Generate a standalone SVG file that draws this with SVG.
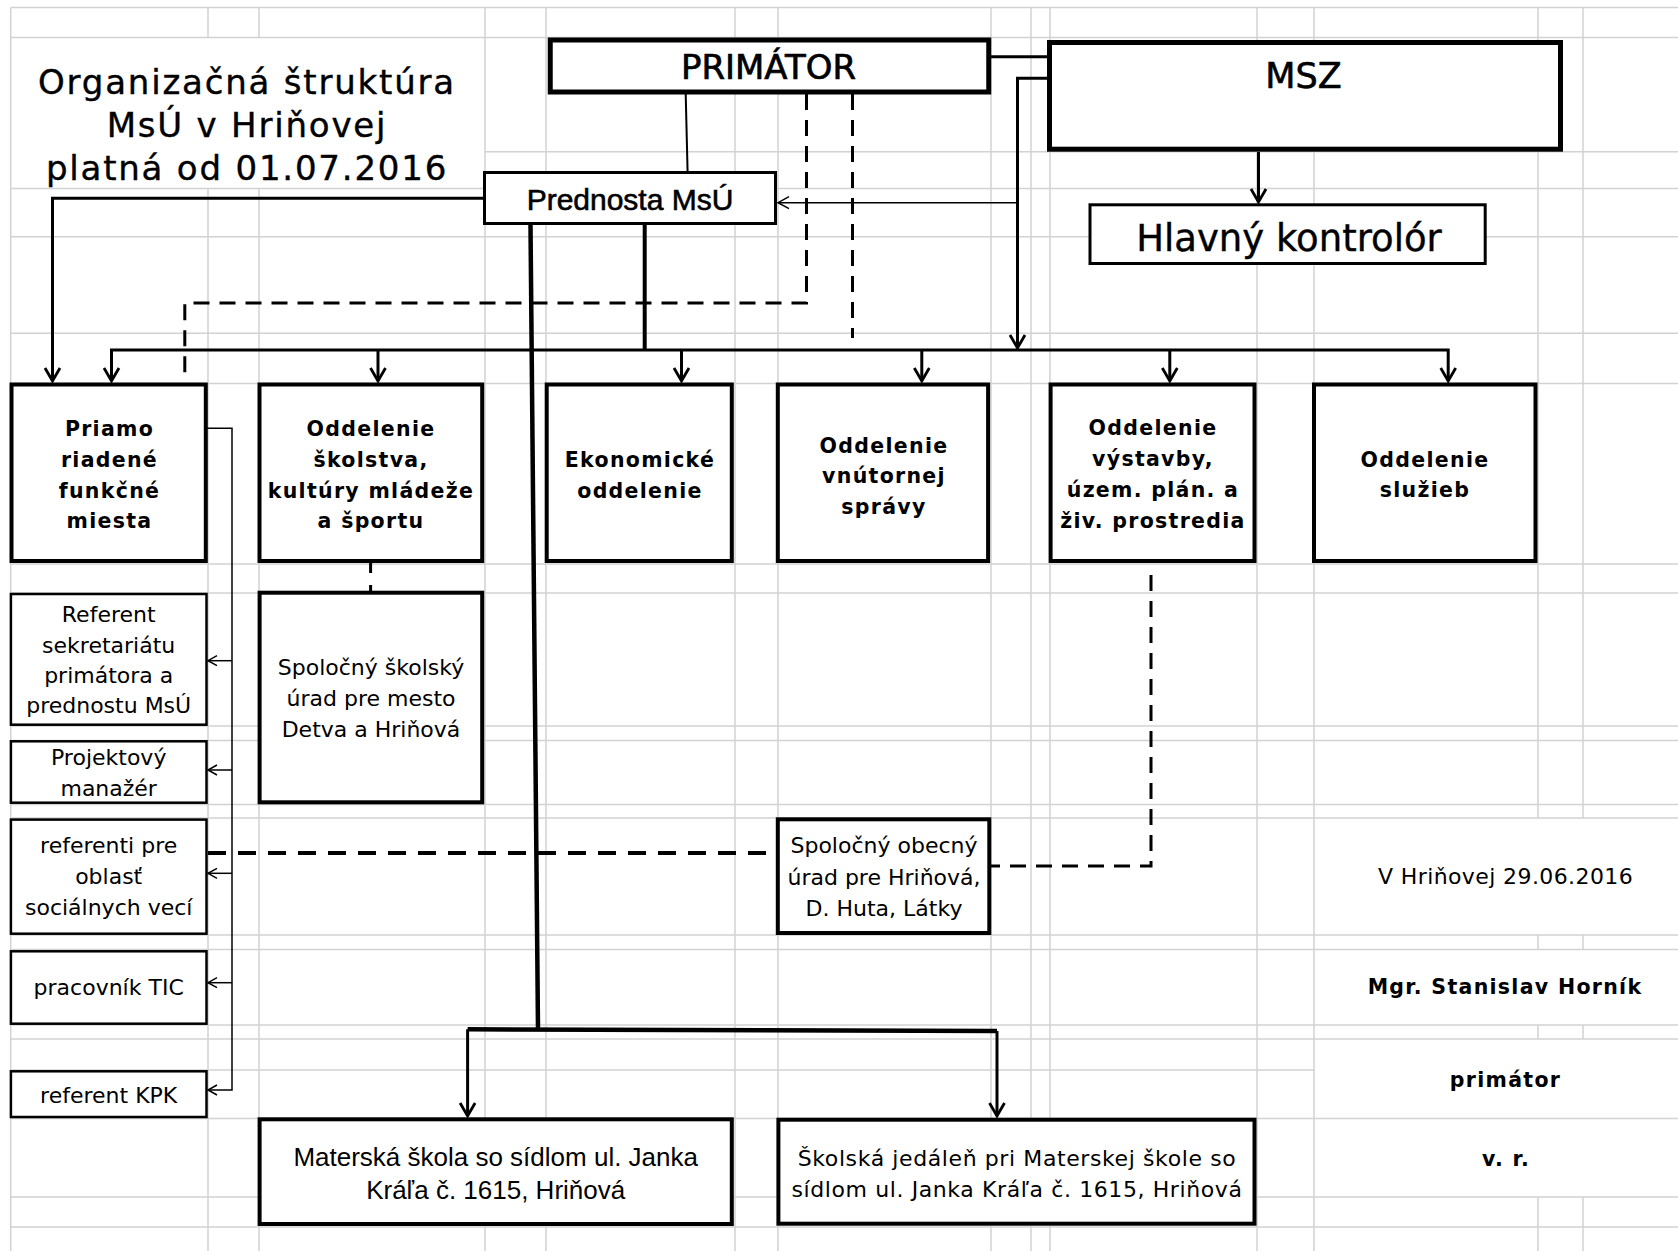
<svg xmlns="http://www.w3.org/2000/svg" width="1678" height="1251" viewBox="0 0 1678 1251">
<style>
.grid path{stroke:#d2d2d2;stroke-width:1.5;fill:none}
.bx{fill:#fff;stroke:#000}
.b5{stroke-width:5}
.b4{stroke-width:4}
.b3{stroke-width:3}
.b2{stroke-width:2.5}
.c{fill:none;stroke:#000;stroke-linejoin:miter}
.dash{stroke-dasharray:16 10}
.t{font-family:"DejaVu Sans",Verdana,sans-serif;fill:#000;text-anchor:middle}
.dep{font-family:"DejaVu Sans",Verdana,sans-serif;font-weight:bold;font-size:20.5px;letter-spacing:1.3px;fill:#000;text-anchor:middle}
.sm{font-size:22px}
.ar{font-family:"Liberation Sans",Arial,sans-serif;fill:#000;text-anchor:middle}
</style>
<defs>
<marker id="ah" viewBox="-16 -10 20 20" refX="0" refY="0" markerWidth="20" markerHeight="20" markerUnits="userSpaceOnUse" orient="auto" overflow="visible"><path d="M-13,-7.5 L0,0 L-13,7.5" fill="none" stroke="#000" stroke-width="2.8"/></marker>
<marker id="at" viewBox="-12 -8 14 16" refX="0" refY="0" markerWidth="14" markerHeight="16" markerUnits="userSpaceOnUse" orient="auto" overflow="visible"><path d="M-9,-5 L0,0 L-9,5" fill="none" stroke="#000" stroke-width="1.5"/></marker>
<marker id="am" viewBox="-14 -8 16 16" refX="0" refY="0" markerWidth="16" markerHeight="16" markerUnits="userSpaceOnUse" orient="auto" overflow="visible"><path d="M-11,-6 L0,0 L-11,6" fill="none" stroke="#000" stroke-width="1.5"/></marker>
</defs>
<rect width="1678" height="1251" fill="#fff"/>
<g class="grid" id="grid">
<path d="M10.7,7.5V1251 M208,7.5V37.5 M208,188.5V1251 M259,7.5V37.5 M259,188.5V1251 M485,7.5V1251 M546,7.5V1251 M735,7.5V1251 M778,7.5V1251 M991,7.5V1251 M1031,7.5V1251 M1050,7.5V1251 M1257,7.5V1251 M1314,7.5V1251 M1538,7.5V818 M1538,935V949.5 M1538,1025V1039 M1538,1197V1251 M1583,7.5V818 M1583,935V949.5 M1583,1025V1039 M1583,1197V1251"/>
<path d="M10.7,7.5H1678 M10.7,37.5H1678 M485,151.7H1678 M10.7,188.5H1678 M10.7,236.7H1678 M10.7,333.2H1678 M10.7,383.5H1678 M10.7,564H1678 M10.7,593H1678 M10.7,726H1678 M10.7,740.5H1678 M10.7,804.5H1678 M10.7,818H1678 M10.7,935H1678 M10.7,949.5H1678 M10.7,1025H1678 M10.7,1039H1678 M10.7,1070H1314 M10.7,1118.5H1678 M10.7,1197H1678 M10.7,1227H1678"/>
</g>
<g id="connectors">
<path class="c" stroke-width="2" d="M685.7,94 L687.6,172"/>
<path class="c" stroke-width="3" d="M991,56.7 H1048"/>
<path class="c" stroke-width="3" d="M1048,78.3 H1017.5 V348" marker-end="url(#ah)"/>
<path class="c" stroke-width="1.5" d="M1017.5,202.7 H778" marker-end="url(#am)"/>
<path class="c" stroke-width="3" d="M1258.5,152 V202" marker-end="url(#ah)"/>
<path class="c" stroke-width="3" d="M484,198.3 H52.5 V381" marker-end="url(#ah)"/>
<path class="c" stroke-width="4" d="M644.7,225 V350"/>
<path class="c" stroke-width="3" d="M111.5,381 V350 H1448.2 V381" marker-end="url(#ah)"/>
<path class="c" stroke-width="3" d="M378,350 V381" marker-end="url(#ah)"/>
<path class="c" stroke-width="3" d="M681.5,350 V381" marker-end="url(#ah)"/>
<path class="c" stroke-width="3" d="M921.8,350 V381" marker-end="url(#ah)"/>
<path class="c" stroke-width="3" d="M1169.8,350 V381" marker-end="url(#ah)"/>
<path class="c" stroke-width="3" d="M111.5,350 V381" marker-end="url(#ah)"/>
<path class="c dash" stroke-width="3" d="M806.5,94 V303 H184.8 V382"/>
<path class="c dash" stroke-width="3" d="M852.5,94 V338"/>
<path class="c" stroke-width="3" stroke-dasharray="10 12" d="M370.6,563 V591"/>
<path class="c dash" stroke-width="3" d="M1151,575 V866 H991"/>
<path class="c" stroke-width="4" stroke-dasharray="18 12" d="M208,853 H776"/>
<path class="c" stroke-width="1.5" d="M207,428.3 H232 V1090 H208" marker-end="url(#at)"/>
<path class="c" stroke-width="1.5" d="M232,660.7 H208" marker-end="url(#at)"/>
<path class="c" stroke-width="1.5" d="M232,770 H208" marker-end="url(#at)"/>
<path class="c" stroke-width="1.5" d="M232,873.3 H208" marker-end="url(#at)"/>
<path class="c" stroke-width="1.5" d="M232,982.7 H208" marker-end="url(#at)"/>
<path class="c" stroke-width="4.5" d="M530.5,225 L538,1029"/>
<path class="c" stroke-width="4.5" d="M467.6,1029.3 L997,1031"/>
<path class="c" stroke-width="3" d="M467.6,1029.3 V1116" marker-end="url(#ah)"/>
<path class="c" stroke-width="3" d="M997,1031 V1116" marker-end="url(#ah)"/>
</g>
<g id="title">
<text class="t" font-size="34" letter-spacing="1.8" stroke="#000" stroke-width="0.4" x="247" y="94">Organizačná štruktúra</text>
<text class="t" font-size="34" letter-spacing="1.8" stroke="#000" stroke-width="0.4" x="247" y="137">MsÚ v Hriňovej</text>
<text class="t" font-size="34" letter-spacing="1.8" stroke="#000" stroke-width="0.4" x="247" y="180">platná od 01.07.2016</text>
</g>
<g id="primator"><rect class="bx b5" x="550.25" y="40" width="438.5" height="52"/><text class="t" font-size="34" stroke="#000" stroke-width="0.7" x="768.5" y="79" textLength="175" lengthAdjust="spacingAndGlyphs">PRIMÁTOR</text></g>
<g id="msz"><rect class="bx b5" x="1049.5" y="42.5" width="511" height="106.7"/><text class="t" font-size="35" stroke="#000" stroke-width="0.6" x="1303.5" y="88">MSZ</text></g>
<g id="prednosta"><rect class="bx b3" x="484.5" y="172.5" width="291" height="51"/><text class="ar" font-size="30" stroke="#000" stroke-width="0.6" x="630" y="210">Prednosta MsÚ</text></g>
<g id="kontrolor"><rect class="bx b3" x="1090" y="204.8" width="395.2" height="58.7"/><text class="t" font-size="37" stroke="#000" stroke-width="0.4" x="1289" y="251">Hlavný kontrolór</text></g>
<g id="dept1"><rect class="bx b4" x="11.5" y="384.5" width="194.3" height="176.5"/><text class="dep" x="109.5" y="436">Priamo</text><text class="dep" x="109.5" y="466.7">riadené</text><text class="dep" x="109.5" y="497.7">funkčné</text><text class="dep" x="109.5" y="528.3">miesta</text></g>
<g id="dept2"><rect class="bx b4" x="259.5" y="384.5" width="222.7" height="176.5"/><text class="dep" x="371" y="436">Oddelenie</text><text class="dep" x="371" y="466.7">školstva,</text><text class="dep" x="371" y="497.7" letter-spacing="0.2">kultúry mládeže</text><text class="dep" x="371" y="528.3">a športu</text></g>
<g id="dept3"><rect class="bx b4" x="546.7" y="384.5" width="185.1" height="176.5"/><text class="dep" x="640" y="466.7" letter-spacing="2">Ekonomické</text><text class="dep" x="640" y="497.7">oddelenie</text></g>
<g id="dept4"><rect class="bx b4" x="777.8" y="384.5" width="210.3" height="176.5"/><text class="dep" x="884" y="452.5">Oddelenie</text><text class="dep" x="884" y="483">vnútornej</text><text class="dep" x="884" y="513.5">správy</text></g>
<g id="dept5"><rect class="bx b4" x="1050.6" y="384.5" width="203.9" height="176.5"/><text class="dep" x="1153" y="435">Oddelenie</text><text class="dep" x="1153" y="465.5">výstavby,</text><text class="dep" x="1153" y="497">územ. plán. a</text><text class="dep" x="1153" y="527.5">živ. prostredia</text></g>
<g id="dept6"><rect class="bx b4" x="1314" y="384.5" width="221.5" height="176.5"/><text class="dep" x="1425" y="466.7">Oddelenie</text><text class="dep" x="1425" y="496.7">služieb</text></g>
<g id="referent"><rect class="bx b2" x="10.9" y="594" width="195.6" height="130.7"/><text class="t sm" x="108.7" y="622.3">Referent</text><text class="t sm" x="108.7" y="652.7">sekretariátu</text><text class="t sm" x="108.7" y="683.3">primátora a</text><text class="t sm" x="108.7" y="713.3">prednostu MsÚ</text></g>
<g id="projekt"><rect class="bx b2" x="10.9" y="741.3" width="195.6" height="61.4"/><text class="t sm" x="108.7" y="765">Projektový</text><text class="t sm" x="108.7" y="795.5">manažér</text></g>
<g id="socialne"><rect class="bx b2" x="10.9" y="819.6" width="195.6" height="114.1"/><text class="t sm" x="108.7" y="853.3">referenti pre</text><text class="t sm" x="108.7" y="884">oblasť</text><text class="t sm" x="108.7" y="915">sociálnych vecí</text></g>
<g id="tic"><rect class="bx b2" x="10.9" y="951.3" width="195.6" height="72.4"/><text class="t sm" x="108.7" y="995">pracovník TIC</text></g>
<g id="kpk"><rect class="bx b2" x="10.9" y="1071.3" width="195.6" height="45.7"/><text class="t sm" x="108.7" y="1103.3">referent KPK</text></g>
<g id="skolsky-urad"><rect class="bx b4" x="259.6" y="592.7" width="222.6" height="209.6"/><text class="t sm" x="371" y="675">Spoločný školský</text><text class="t sm" x="371" y="706">úrad pre mesto</text><text class="t sm" x="371" y="737">Detva a Hriňová</text></g>
<g id="obecny-urad"><rect class="bx b4" x="777.8" y="819.3" width="211.5" height="113.7"/><text class="t sm" x="884" y="853.3">Spoločný obecný</text><text class="t sm" x="884" y="885">úrad pre Hriňová,</text><text class="t sm" x="884" y="915.5">D. Huta, Látky</text></g>
<g id="materska"><rect class="bx b4" x="259.6" y="1119.3" width="472.2" height="104.7"/><text class="ar" font-size="26" x="495.7" y="1165.7">Materská škola so sídlom ul. Janka</text><text class="ar" font-size="26" x="495.7" y="1199">Kráľa č. 1615, Hriňová</text></g>
<g id="jedalen"><rect class="bx b4" x="778.4" y="1119.7" width="476.1" height="104"/><text class="t sm" letter-spacing="0.6" x="1017" y="1165.7">Školská jedáleň pri Materskej škole so</text><text class="t sm" letter-spacing="0.6" x="1017" y="1196.7">sídlom ul. Janka Kráľa č. 1615, Hriňová</text></g>
<g id="signature">
<text class="t sm" letter-spacing="0.4" x="1505.5" y="884">V Hriňovej 29.06.2016</text>
<text class="dep" letter-spacing="1.6" x="1505" y="994">Mgr. Stanislav Horník</text>
<text class="dep" x="1505.5" y="1086.7">primátor</text>
<text class="dep" x="1506" y="1165.7">v. r.</text>
</g>
</svg>
